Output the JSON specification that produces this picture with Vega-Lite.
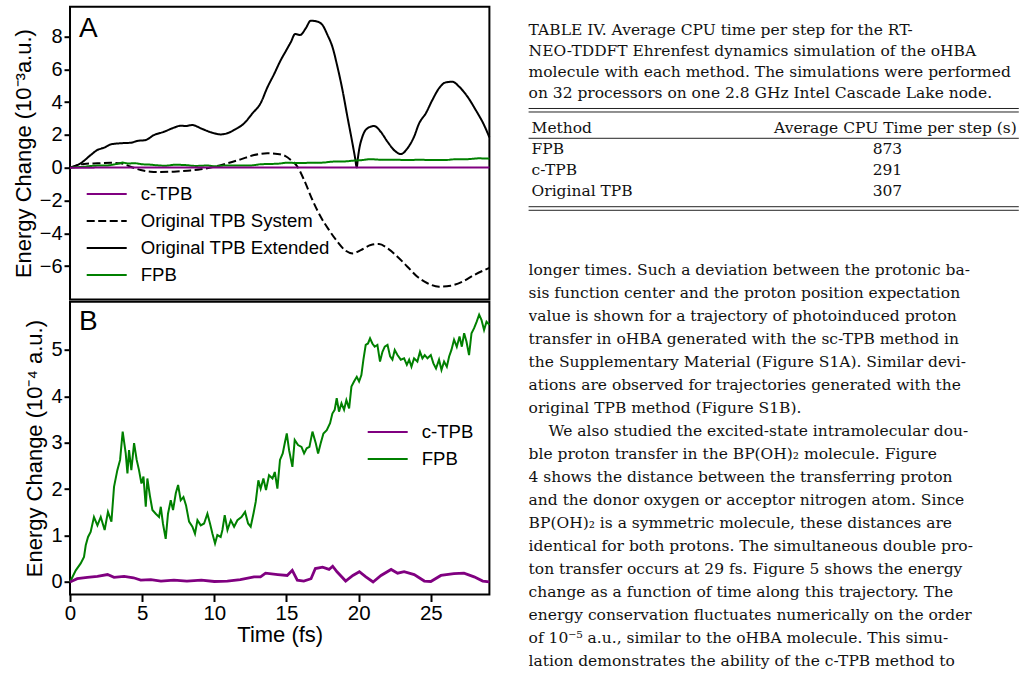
{
  "$schema": "https://vega.github.io/schema/vega-lite/v6.json",
  "background": "white",
  "padding": {"left": 11, "top": 5.7, "right": 5, "bottom": 0},
  "config": {
    "font": "Liberation Sans",
    "view": {"stroke": "black", "strokeWidth": 2},
    "axis": {
      "domain": false, "grid": false, "labelFlush": false,
      "tickColor": "black", "tickWidth": 2, "tickSize": 6,
      "labelColor": "black", "labelFont": "Liberation Sans", "labelFontSize": 20, "labelPadding": 2,
      "titleColor": "black", "titleFont": "Liberation Sans", "titleFontSize": 22, "titleFontWeight": "normal", "titlePadding": 4
    },
    "legend": {
      "labelFont": "Liberation Sans", "labelFontSize": 18.6, "labelColor": "black", "labelLimit": 0,
      "symbolType": "M-2,0H2", "symbolSize": 400, "symbolStrokeWidth": 2,
      "labelOffset": 23, "rowPadding": 6, "padding": 0, "title": null
    }
  },
  "datasets": {
    "panelA": [
      {"s": "Original TPB Extended", "t": 0, "v": 0},
      {"s": "Original TPB Extended", "t": 0.74, "v": 0.27},
      {"s": "Original TPB Extended", "t": 1.43, "v": 0.77},
      {"s": "Original TPB Extended", "t": 1.9, "v": 1.08},
      {"s": "Original TPB Extended", "t": 2.36, "v": 1.22},
      {"s": "Original TPB Extended", "t": 2.82, "v": 1.42},
      {"s": "Original TPB Extended", "t": 3.51, "v": 1.49},
      {"s": "Original TPB Extended", "t": 4.2, "v": 1.52},
      {"s": "Original TPB Extended", "t": 4.67, "v": 1.63},
      {"s": "Original TPB Extended", "t": 5.25, "v": 1.69},
      {"s": "Original TPB Extended", "t": 5.82, "v": 1.99},
      {"s": "Original TPB Extended", "t": 6.51, "v": 2.19},
      {"s": "Original TPB Extended", "t": 7.2, "v": 2.44},
      {"s": "Original TPB Extended", "t": 7.67, "v": 2.56},
      {"s": "Original TPB Extended", "t": 8.0, "v": 2.54},
      {"s": "Original TPB Extended", "t": 8.48, "v": 2.6},
      {"s": "Original TPB Extended", "t": 9.06, "v": 2.4},
      {"s": "Original TPB Extended", "t": 9.75, "v": 2.16},
      {"s": "Original TPB Extended", "t": 10.44, "v": 2.03},
      {"s": "Original TPB Extended", "t": 10.9, "v": 2.1},
      {"s": "Original TPB Extended", "t": 11.37, "v": 2.3},
      {"s": "Original TPB Extended", "t": 12.06, "v": 2.7},
      {"s": "Original TPB Extended", "t": 12.64, "v": 3.31},
      {"s": "Original TPB Extended", "t": 13.2, "v": 3.92},
      {"s": "Original TPB Extended", "t": 13.68, "v": 4.9},
      {"s": "Original TPB Extended", "t": 14.14, "v": 5.7},
      {"s": "Original TPB Extended", "t": 14.6, "v": 6.55},
      {"s": "Original TPB Extended", "t": 14.95, "v": 7.1},
      {"s": "Original TPB Extended", "t": 15.3, "v": 7.65},
      {"s": "Original TPB Extended", "t": 15.6, "v": 8.15},
      {"s": "Original TPB Extended", "t": 15.95, "v": 8.09},
      {"s": "Original TPB Extended", "t": 16.34, "v": 8.5},
      {"s": "Original TPB Extended", "t": 16.68, "v": 8.96},
      {"s": "Original TPB Extended", "t": 17.14, "v": 8.9},
      {"s": "Original TPB Extended", "t": 17.49, "v": 8.7},
      {"s": "Original TPB Extended", "t": 17.84, "v": 8.09},
      {"s": "Original TPB Extended", "t": 18.18, "v": 7.37},
      {"s": "Original TPB Extended", "t": 18.53, "v": 6.15},
      {"s": "Original TPB Extended", "t": 18.88, "v": 4.73},
      {"s": "Original TPB Extended", "t": 19.22, "v": 3.11},
      {"s": "Original TPB Extended", "t": 19.57, "v": 1.49},
      {"s": "Original TPB Extended", "t": 19.75, "v": 0.62},
      {"s": "Original TPB Extended", "t": 19.87, "v": 0.02},
      {"s": "Original TPB Extended", "t": 19.95, "v": 0.6},
      {"s": "Original TPB Extended", "t": 20.03, "v": 1.08},
      {"s": "Original TPB Extended", "t": 20.26, "v": 1.89},
      {"s": "Original TPB Extended", "t": 20.61, "v": 2.4},
      {"s": "Original TPB Extended", "t": 21.07, "v": 2.54},
      {"s": "Original TPB Extended", "t": 21.53, "v": 2.19},
      {"s": "Original TPB Extended", "t": 22.0, "v": 1.58},
      {"s": "Original TPB Extended", "t": 22.57, "v": 0.98},
      {"s": "Original TPB Extended", "t": 22.92, "v": 0.83},
      {"s": "Original TPB Extended", "t": 23.38, "v": 1.18},
      {"s": "Original TPB Extended", "t": 23.84, "v": 1.89},
      {"s": "Original TPB Extended", "t": 24.19, "v": 2.7},
      {"s": "Original TPB Extended", "t": 24.65, "v": 3.31},
      {"s": "Original TPB Extended", "t": 25.11, "v": 4.13},
      {"s": "Original TPB Extended", "t": 25.57, "v": 4.84},
      {"s": "Original TPB Extended", "t": 26.04, "v": 5.2},
      {"s": "Original TPB Extended", "t": 26.5, "v": 5.24},
      {"s": "Original TPB Extended", "t": 26.96, "v": 4.94},
      {"s": "Original TPB Extended", "t": 27.54, "v": 4.33},
      {"s": "Original TPB Extended", "t": 28.11, "v": 3.52},
      {"s": "Original TPB Extended", "t": 28.69, "v": 2.6},
      {"s": "Original TPB Extended", "t": 29.06, "v": 1.85},

      {"s": "Original TPB System", "t": 0, "v": 0},
      {"s": "Original TPB System", "t": 0.97, "v": 0.23},
      {"s": "Original TPB System", "t": 1.9, "v": 0.27},
      {"s": "Original TPB System", "t": 2.82, "v": 0.3},
      {"s": "Original TPB System", "t": 3.5, "v": 0.27},
      {"s": "Original TPB System", "t": 4.2, "v": 0.06},
      {"s": "Original TPB System", "t": 4.9, "v": -0.14},
      {"s": "Original TPB System", "t": 5.59, "v": -0.24},
      {"s": "Original TPB System", "t": 6.28, "v": -0.26},
      {"s": "Original TPB System", "t": 7.2, "v": -0.24},
      {"s": "Original TPB System", "t": 8.14, "v": -0.18},
      {"s": "Original TPB System", "t": 9.06, "v": -0.1},
      {"s": "Original TPB System", "t": 9.98, "v": 0.06},
      {"s": "Original TPB System", "t": 10.9, "v": 0.27},
      {"s": "Original TPB System", "t": 11.83, "v": 0.51},
      {"s": "Original TPB System", "t": 12.75, "v": 0.77},
      {"s": "Original TPB System", "t": 13.67, "v": 0.88},
      {"s": "Original TPB System", "t": 14.37, "v": 0.84},
      {"s": "Original TPB System", "t": 14.9, "v": 0.72},
      {"s": "Original TPB System", "t": 15.3, "v": 0.47},
      {"s": "Original TPB System", "t": 15.76, "v": 0.06},
      {"s": "Original TPB System", "t": 16.22, "v": -0.75},
      {"s": "Original TPB System", "t": 16.8, "v": -1.97},
      {"s": "Original TPB System", "t": 17.37, "v": -2.99},
      {"s": "Original TPB System", "t": 17.95, "v": -3.8},
      {"s": "Original TPB System", "t": 18.53, "v": -4.51},
      {"s": "Original TPB System", "t": 19.1, "v": -5.06},
      {"s": "Original TPB System", "t": 19.57, "v": -5.22},
      {"s": "Original TPB System", "t": 20.15, "v": -5.02},
      {"s": "Original TPB System", "t": 20.84, "v": -4.71},
      {"s": "Original TPB System", "t": 21.41, "v": -4.65},
      {"s": "Original TPB System", "t": 22.0, "v": -4.91},
      {"s": "Original TPB System", "t": 22.69, "v": -5.42},
      {"s": "Original TPB System", "t": 23.38, "v": -6.03},
      {"s": "Original TPB System", "t": 24.07, "v": -6.64},
      {"s": "Original TPB System", "t": 24.77, "v": -7.04},
      {"s": "Original TPB System", "t": 25.57, "v": -7.25},
      {"s": "Original TPB System", "t": 26.38, "v": -7.19},
      {"s": "Original TPB System", "t": 27.19, "v": -6.95},
      {"s": "Original TPB System", "t": 28.0, "v": -6.54},
      {"s": "Original TPB System", "t": 29.06, "v": -6.1},

      {"s": "FPB", "t": 0, "v": 0},
      {"s": "FPB", "t": 0.5, "v": 0.03},
      {"s": "FPB", "t": 1, "v": 0.06},
      {"s": "FPB", "t": 1.5, "v": 0.11},
      {"s": "FPB", "t": 2, "v": 0.13},
      {"s": "FPB", "t": 2.5, "v": 0.13},
      {"s": "FPB", "t": 3, "v": 0.19},
      {"s": "FPB", "t": 3.4, "v": 0.26},
      {"s": "FPB", "t": 3.65, "v": 0.31},
      {"s": "FPB", "t": 4, "v": 0.26},
      {"s": "FPB", "t": 4.5, "v": 0.27},
      {"s": "FPB", "t": 5, "v": 0.21},
      {"s": "FPB", "t": 5.5, "v": 0.19},
      {"s": "FPB", "t": 6, "v": 0.15},
      {"s": "FPB", "t": 6.6, "v": 0.12},
      {"s": "FPB", "t": 7.3, "v": 0.18},
      {"s": "FPB", "t": 8, "v": 0.16},
      {"s": "FPB", "t": 8.7, "v": 0.11},
      {"s": "FPB", "t": 9.5, "v": 0.13},
      {"s": "FPB", "t": 10.05, "v": 0.09},
      {"s": "FPB", "t": 10.7, "v": 0.13},
      {"s": "FPB", "t": 11.5, "v": 0.13},
      {"s": "FPB", "t": 12.3, "v": 0.13},
      {"s": "FPB", "t": 12.8, "v": 0.16},
      {"s": "FPB", "t": 13.2, "v": 0.21},
      {"s": "FPB", "t": 14, "v": 0.23},
      {"s": "FPB", "t": 14.5, "v": 0.25},
      {"s": "FPB", "t": 15, "v": 0.3},
      {"s": "FPB", "t": 15.8, "v": 0.29},
      {"s": "FPB", "t": 16.8, "v": 0.3},
      {"s": "FPB", "t": 17.5, "v": 0.31},
      {"s": "FPB", "t": 18.2, "v": 0.37},
      {"s": "FPB", "t": 19, "v": 0.38},
      {"s": "FPB", "t": 19.6, "v": 0.43},
      {"s": "FPB", "t": 20.2, "v": 0.46},
      {"s": "FPB", "t": 20.8, "v": 0.52},
      {"s": "FPB", "t": 21.5, "v": 0.49},
      {"s": "FPB", "t": 22.3, "v": 0.49},
      {"s": "FPB", "t": 23.3, "v": 0.47},
      {"s": "FPB", "t": 24.2, "v": 0.48},
      {"s": "FPB", "t": 25.2, "v": 0.47},
      {"s": "FPB", "t": 26, "v": 0.47},
      {"s": "FPB", "t": 26.8, "v": 0.52},
      {"s": "FPB", "t": 27.5, "v": 0.52},
      {"s": "FPB", "t": 28.35, "v": 0.57},
      {"s": "FPB", "t": 29.06, "v": 0.55},

      {"s": "c-TPB", "t": 0, "v": 0},
      {"s": "c-TPB", "t": 5, "v": 0.01},
      {"s": "c-TPB", "t": 10, "v": 0.005},
      {"s": "c-TPB", "t": 15, "v": 0.015},
      {"s": "c-TPB", "t": 20, "v": 0.01},
      {"s": "c-TPB", "t": 25, "v": 0.01},
      {"s": "c-TPB", "t": 29.06, "v": 0.005}
    ],
    "panelB": [
      {"s": "FPB", "t": 0, "v": 0}, {"s": "FPB", "t": 0.4, "v": 0.25}, {"s": "FPB", "t": 0.74, "v": 0.4},
      {"s": "FPB", "t": 0.97, "v": 0.54}, {"s": "FPB", "t": 1.09, "v": 0.79}, {"s": "FPB", "t": 1.25, "v": 0.97},
      {"s": "FPB", "t": 1.43, "v": 1.08}, {"s": "FPB", "t": 1.66, "v": 1.4}, {"s": "FPB", "t": 1.9, "v": 1.22},
      {"s": "FPB", "t": 2.13, "v": 1.4}, {"s": "FPB", "t": 2.4, "v": 1.12}, {"s": "FPB", "t": 2.63, "v": 1.51},
      {"s": "FPB", "t": 2.87, "v": 1.3}, {"s": "FPB", "t": 3.05, "v": 2.05}, {"s": "FPB", "t": 3.28, "v": 2.41},
      {"s": "FPB", "t": 3.47, "v": 2.63}, {"s": "FPB", "t": 3.65, "v": 3.24}, {"s": "FPB", "t": 3.86, "v": 2.77},
      {"s": "FPB", "t": 3.98, "v": 2.34}, {"s": "FPB", "t": 4.09, "v": 2.84}, {"s": "FPB", "t": 4.25, "v": 2.41},
      {"s": "FPB", "t": 4.44, "v": 2.99}, {"s": "FPB", "t": 4.62, "v": 2.63}, {"s": "FPB", "t": 4.78, "v": 2.41},
      {"s": "FPB", "t": 4.95, "v": 2.12}, {"s": "FPB", "t": 5.09, "v": 2.27}, {"s": "FPB", "t": 5.25, "v": 1.62},
      {"s": "FPB", "t": 5.36, "v": 2.23}, {"s": "FPB", "t": 5.55, "v": 1.83}, {"s": "FPB", "t": 5.71, "v": 1.55},
      {"s": "FPB", "t": 5.94, "v": 1.47}, {"s": "FPB", "t": 6.17, "v": 1.4}, {"s": "FPB", "t": 6.29, "v": 1.62},
      {"s": "FPB", "t": 6.44, "v": 1.26}, {"s": "FPB", "t": 6.63, "v": 0.93}, {"s": "FPB", "t": 6.79, "v": 1.47},
      {"s": "FPB", "t": 6.98, "v": 1.76}, {"s": "FPB", "t": 7.14, "v": 1.55}, {"s": "FPB", "t": 7.33, "v": 1.91},
      {"s": "FPB", "t": 7.49, "v": 2.09}, {"s": "FPB", "t": 7.67, "v": 1.76}, {"s": "FPB", "t": 7.86, "v": 1.83},
      {"s": "FPB", "t": 8.04, "v": 1.65}, {"s": "FPB", "t": 8.25, "v": 1.3}, {"s": "FPB", "t": 8.48, "v": 1.19},
      {"s": "FPB", "t": 8.66, "v": 1.04}, {"s": "FPB", "t": 8.83, "v": 1.33}, {"s": "FPB", "t": 9.06, "v": 1.22},
      {"s": "FPB", "t": 9.29, "v": 1.26}, {"s": "FPB", "t": 9.52, "v": 1.47}, {"s": "FPB", "t": 9.7, "v": 1.26},
      {"s": "FPB", "t": 9.87, "v": 1.04}, {"s": "FPB", "t": 10.05, "v": 0.83}, {"s": "FPB", "t": 10.21, "v": 1.01},
      {"s": "FPB", "t": 10.44, "v": 0.97}, {"s": "FPB", "t": 10.56, "v": 1.12}, {"s": "FPB", "t": 10.72, "v": 1.44},
      {"s": "FPB", "t": 10.91, "v": 1.12}, {"s": "FPB", "t": 11.14, "v": 1.33}, {"s": "FPB", "t": 11.37, "v": 1.19},
      {"s": "FPB", "t": 11.6, "v": 1.33}, {"s": "FPB", "t": 11.88, "v": 1.4}, {"s": "FPB", "t": 12.13, "v": 1.51},
      {"s": "FPB", "t": 12.34, "v": 1.26}, {"s": "FPB", "t": 12.52, "v": 1.19}, {"s": "FPB", "t": 12.71, "v": 1.47},
      {"s": "FPB", "t": 12.87, "v": 1.73}, {"s": "FPB", "t": 13.05, "v": 2.19}, {"s": "FPB", "t": 13.21, "v": 2.01},
      {"s": "FPB", "t": 13.4, "v": 2.23}, {"s": "FPB", "t": 13.58, "v": 1.98}, {"s": "FPB", "t": 13.79, "v": 2.3},
      {"s": "FPB", "t": 14.03, "v": 2.23}, {"s": "FPB", "t": 14.19, "v": 2.37}, {"s": "FPB", "t": 14.37, "v": 2.01},
      {"s": "FPB", "t": 14.55, "v": 2.63}, {"s": "FPB", "t": 14.74, "v": 2.77}, {"s": "FPB", "t": 14.88, "v": 2.99},
      {"s": "FPB", "t": 15.02, "v": 3.2}, {"s": "FPB", "t": 15.18, "v": 2.84}, {"s": "FPB", "t": 15.41, "v": 2.48},
      {"s": "FPB", "t": 15.57, "v": 3.06}, {"s": "FPB", "t": 15.8, "v": 2.95}, {"s": "FPB", "t": 16.04, "v": 2.91},
      {"s": "FPB", "t": 16.22, "v": 2.77}, {"s": "FPB", "t": 16.4, "v": 2.88}, {"s": "FPB", "t": 16.59, "v": 2.91},
      {"s": "FPB", "t": 16.8, "v": 3.24}, {"s": "FPB", "t": 17.03, "v": 2.99}, {"s": "FPB", "t": 17.19, "v": 2.77},
      {"s": "FPB", "t": 17.37, "v": 2.99}, {"s": "FPB", "t": 17.56, "v": 3.2}, {"s": "FPB", "t": 17.79, "v": 3.27},
      {"s": "FPB", "t": 18.02, "v": 3.42}, {"s": "FPB", "t": 18.18, "v": 3.63}, {"s": "FPB", "t": 18.34, "v": 3.71},
      {"s": "FPB", "t": 18.48, "v": 3.96}, {"s": "FPB", "t": 18.64, "v": 3.67}, {"s": "FPB", "t": 18.81, "v": 3.85},
      {"s": "FPB", "t": 18.99, "v": 3.71}, {"s": "FPB", "t": 19.15, "v": 3.92}, {"s": "FPB", "t": 19.34, "v": 3.74},
      {"s": "FPB", "t": 19.5, "v": 4.21}, {"s": "FPB", "t": 19.68, "v": 4.32}, {"s": "FPB", "t": 19.87, "v": 4.42},
      {"s": "FPB", "t": 20.03, "v": 4.32}, {"s": "FPB", "t": 20.19, "v": 4.46}, {"s": "FPB", "t": 20.33, "v": 4.79},
      {"s": "FPB", "t": 20.49, "v": 5.11}, {"s": "FPB", "t": 20.65, "v": 5.14}, {"s": "FPB", "t": 20.79, "v": 5.25},
      {"s": "FPB", "t": 20.95, "v": 5.14}, {"s": "FPB", "t": 21.11, "v": 5.07}, {"s": "FPB", "t": 21.3, "v": 5.11},
      {"s": "FPB", "t": 21.48, "v": 4.75}, {"s": "FPB", "t": 21.65, "v": 4.96}, {"s": "FPB", "t": 21.81, "v": 5.07},
      {"s": "FPB", "t": 22.0, "v": 5.11}, {"s": "FPB", "t": 22.18, "v": 4.86}, {"s": "FPB", "t": 22.34, "v": 4.79},
      {"s": "FPB", "t": 22.5, "v": 5.0}, {"s": "FPB", "t": 22.69, "v": 4.89}, {"s": "FPB", "t": 22.92, "v": 4.79},
      {"s": "FPB", "t": 23.15, "v": 4.82}, {"s": "FPB", "t": 23.34, "v": 4.68}, {"s": "FPB", "t": 23.5, "v": 4.79},
      {"s": "FPB", "t": 23.66, "v": 4.64}, {"s": "FPB", "t": 23.84, "v": 4.82}, {"s": "FPB", "t": 24.07, "v": 4.75},
      {"s": "FPB", "t": 24.25, "v": 4.96}, {"s": "FPB", "t": 24.42, "v": 4.82}, {"s": "FPB", "t": 24.58, "v": 4.89},
      {"s": "FPB", "t": 24.77, "v": 4.82}, {"s": "FPB", "t": 25.0, "v": 4.89}, {"s": "FPB", "t": 25.18, "v": 4.71},
      {"s": "FPB", "t": 25.36, "v": 4.6}, {"s": "FPB", "t": 25.57, "v": 4.79}, {"s": "FPB", "t": 25.74, "v": 4.57},
      {"s": "FPB", "t": 25.92, "v": 4.75}, {"s": "FPB", "t": 26.11, "v": 4.64}, {"s": "FPB", "t": 26.27, "v": 4.86},
      {"s": "FPB", "t": 26.43, "v": 5.0}, {"s": "FPB", "t": 26.61, "v": 5.22}, {"s": "FPB", "t": 26.8, "v": 5.07},
      {"s": "FPB", "t": 26.99, "v": 5.29}, {"s": "FPB", "t": 27.15, "v": 5.07}, {"s": "FPB", "t": 27.31, "v": 5.36},
      {"s": "FPB", "t": 27.47, "v": 5.18}, {"s": "FPB", "t": 27.65, "v": 4.89}, {"s": "FPB", "t": 27.82, "v": 5.36},
      {"s": "FPB", "t": 28.0, "v": 5.47}, {"s": "FPB", "t": 28.18, "v": 5.61}, {"s": "FPB", "t": 28.35, "v": 5.76},
      {"s": "FPB", "t": 28.51, "v": 5.65}, {"s": "FPB", "t": 28.69, "v": 5.43}, {"s": "FPB", "t": 28.86, "v": 5.61},
      {"s": "FPB", "t": 29.06, "v": 5.54},

      {"s": "c-TPB", "t": 0, "v": 0}, {"s": "c-TPB", "t": 0.5, "v": 0.07}, {"s": "c-TPB", "t": 1.2, "v": 0.1},
      {"s": "c-TPB", "t": 1.9, "v": 0.12}, {"s": "c-TPB", "t": 2.6, "v": 0.16}, {"s": "c-TPB", "t": 3.05, "v": 0.1},
      {"s": "c-TPB", "t": 3.75, "v": 0.12}, {"s": "c-TPB", "t": 4.4, "v": 0.09}, {"s": "c-TPB", "t": 4.9, "v": 0.04},
      {"s": "c-TPB", "t": 5.6, "v": 0.05}, {"s": "c-TPB", "t": 6.3, "v": 0.02}, {"s": "c-TPB", "t": 7.2, "v": 0.04},
      {"s": "c-TPB", "t": 8.1, "v": 0.02}, {"s": "c-TPB", "t": 9.1, "v": 0.04}, {"s": "c-TPB", "t": 10.0, "v": 0.01},
      {"s": "c-TPB", "t": 10.9, "v": 0.02}, {"s": "c-TPB", "t": 11.8, "v": 0.05}, {"s": "c-TPB", "t": 12.75, "v": 0.11},
      {"s": "c-TPB", "t": 13.2, "v": 0.11}, {"s": "c-TPB", "t": 13.55, "v": 0.19}, {"s": "c-TPB", "t": 14.4, "v": 0.16},
      {"s": "c-TPB", "t": 15.05, "v": 0.14}, {"s": "c-TPB", "t": 15.4, "v": 0.25}, {"s": "c-TPB", "t": 15.75, "v": 0.04},
      {"s": "c-TPB", "t": 16.2, "v": 0.02}, {"s": "c-TPB", "t": 16.7, "v": 0.07}, {"s": "c-TPB", "t": 17.0, "v": 0.29},
      {"s": "c-TPB", "t": 17.5, "v": 0.32}, {"s": "c-TPB", "t": 17.95, "v": 0.27}, {"s": "c-TPB", "t": 18.2, "v": 0.34},
      {"s": "c-TPB", "t": 18.5, "v": 0.22}, {"s": "c-TPB", "t": 19.1, "v": 0.02}, {"s": "c-TPB", "t": 19.6, "v": 0.14},
      {"s": "c-TPB", "t": 20.05, "v": 0.22}, {"s": "c-TPB", "t": 20.5, "v": 0.11}, {"s": "c-TPB", "t": 21.0, "v": 0.0},
      {"s": "c-TPB", "t": 21.55, "v": 0.14}, {"s": "c-TPB", "t": 22.25, "v": 0.27}, {"s": "c-TPB", "t": 22.7, "v": 0.19},
      {"s": "c-TPB", "t": 23.15, "v": 0.22}, {"s": "c-TPB", "t": 23.85, "v": 0.16}, {"s": "c-TPB", "t": 24.55, "v": 0.02},
      {"s": "c-TPB", "t": 25.0, "v": 0.01}, {"s": "c-TPB", "t": 25.7, "v": 0.14}, {"s": "c-TPB", "t": 26.6, "v": 0.18},
      {"s": "c-TPB", "t": 27.3, "v": 0.19}, {"s": "c-TPB", "t": 28.0, "v": 0.11}, {"s": "c-TPB", "t": 28.6, "v": 0.02},
      {"s": "c-TPB", "t": 29.06, "v": 0.0}
    ],
    "caption": [
      {"line": 0, "text": "TABLE IV. Average CPU time per step for the RT-"},
      {"line": 1, "text": "NEO-TDDFT Ehrenfest dynamics simulation of the oHBA"},
      {"line": 2, "text": "molecule with each method. The simulations were performed"},
      {"line": 3, "text": "on 32 processors on one 2.8 GHz Intel Cascade Lake node."}
    ],
    "cpu": [
      {"row": 1, "method": "FPB", "time": 873},
      {"row": 2, "method": "c-TPB", "time": 291},
      {"row": 3, "method": "Original TPB", "time": 307}
    ],
    "body": [
      {"line": 0, "text": "longer times. Such a deviation between the protonic ba-"},
      {"line": 1, "text": "sis function center and the proton position expectation"},
      {"line": 2, "text": "value is shown for a trajectory of photoinduced proton"},
      {"line": 3, "text": "transfer in oHBA generated with the sc-TPB method in"},
      {"line": 4, "text": "the Supplementary Material (Figure S1A). Similar devi-"},
      {"line": 5, "text": "ations are observed for trajectories generated with the"},
      {"line": 6, "text": "original TPB method (Figure S1B)."},
      {"line": 7, "text": "We also studied the excited-state intramolecular dou-"},
      {"line": 8, "text": "ble proton transfer in the BP(OH)\u2082 molecule.  Figure"},
      {"line": 9, "text": "4 shows the distance between the transferring proton"},
      {"line": 10, "text": "and the donor oxygen or acceptor nitrogen atom. Since"},
      {"line": 11, "text": "BP(OH)\u2082 is a symmetric molecule, these distances are"},
      {"line": 12, "text": "identical for both protons. The simultaneous double pro-"},
      {"line": 13, "text": "ton transfer occurs at 29 fs. Figure 5 shows the energy"},
      {"line": 14, "text": "change as a function of time along this trajectory. The"},
      {"line": 15, "text": "energy conservation fluctuates numerically on the order"},
      {"line": 16, "text": "of 10\u207b\u2075 a.u., similar to the oHBA molecule. This simu-"},
      {"line": 17, "text": "lation demonstrates the ability of the c-TPB method to"},
      {"line": 18, "text": "simulate two or more proton transfers. Note that the"}
    ]
  },
  "spacing": 31.6,
  "hconcat": [
    {
      "spacing": 0,
      "resolve": {"scale": {"color": "independent", "strokeDash": "independent"}},
      "vconcat": [
        {
          "width": 419.4,
          "height": 292.8,
          "layer": [
            {
              "data": {"name": "panelA"},
              "mark": {"type": "line", "strokeWidth": 2, "interpolate": "monotone"},
              "encoding": {
                "x": {"field": "t", "type": "quantitative", "scale": {"domain": [0, 29.06], "nice": false, "zero": false}, "axis": null},
                "y": {"field": "v", "type": "quantitative", "scale": {"domain": [-8.03, 9.81], "nice": false, "zero": false},
                      "axis": {"values": [-6, -4, -2, 0, 2, 4, 6, 8], "title": "Energy Change (10\u207b\u00b3a.u.)"}},
                "color": {"field": "s", "type": "nominal",
                          "scale": {"domain": ["c-TPB", "Original TPB System", "Original TPB Extended", "FPB"], "range": ["#800080", "black", "black", "#008000"]},
                          "legend": {"orient": "none", "legendX": 25.7, "legendY": 176.3}},
                "strokeDash": {"field": "s", "type": "nominal",
                               "scale": {"domain": ["c-TPB", "Original TPB System", "Original TPB Extended", "FPB"], "range": [[1, 0], [8, 3.5], [1, 0], [1, 0]]}}
              }
            },
            {
              "data": {"values": [{"panel": "A"}]},
              "mark": {"type": "text", "fontSize": 28, "align": "left", "baseline": "alphabetic", "color": "black"},
              "encoding": {
                "x": {"datum": 0.62, "type": "quantitative"},
                "y": {"datum": 7.98, "type": "quantitative"},
                "text": {"field": "panel"}
              }
            }
          ]
        },
        {
          "width": 419.4,
          "height": 292.8,
          "layer": [
            {
              "data": {"name": "panelB"},
              "mark": {"type": "line"},
              "encoding": {
                "x": {"field": "t", "type": "quantitative", "scale": {"domain": [0, 29.06], "nice": false, "zero": false},
                      "axis": {"values": [0, 5, 10, 15, 20, 25], "title": "Time (fs)", "tickSize": 7, "labelFontSize": 20.5, "titlePadding": 1}},
                "y": {"field": "v", "type": "quantitative", "scale": {"domain": [-0.27, 6.04], "nice": false, "zero": false},
                      "axis": {"values": [0, 1, 2, 3, 4, 5], "title": "Energy Change (10\u207b\u2074 a.u.)"}},
                "color": {"field": "s", "type": "nominal",
                          "scale": {"domain": ["c-TPB", "FPB"], "range": ["#800080", "#008000"]},
                          "legend": {"orient": "none", "legendX": 306.7, "legendY": 119.2}},
                "strokeWidth": {"field": "s", "type": "nominal", "scale": {"domain": ["c-TPB", "FPB"], "range": [2.8, 2]}, "legend": null}
              }
            },
            {
              "data": {"values": [{"panel": "B"}]},
              "mark": {"type": "text", "fontSize": 28, "align": "left", "baseline": "alphabetic", "color": "black"},
              "encoding": {
                "x": {"datum": 0.62, "type": "quantitative"},
                "y": {"datum": 5.43, "type": "quantitative"},
                "text": {"field": "panel"}
              }
            }
          ]
        }
      ]
    },
    {
      "width": 490.2,
      "height": 670,
      "view": {"stroke": null},
      "resolve": {"scale": {"y": "independent"}},
      "layer": [
        {
          "data": {"name": "caption"},
          "mark": {"type": "text", "align": "left", "baseline": "alphabetic", "font": "DejaVu Serif", "fontSize": 15.5, "color": "#111"},
          "encoding": {
            "x": {"datum": 0, "type": "quantitative", "scale": {"domain": [0, 1], "nice": false, "zero": false}, "axis": null},
            "y": {"field": "line", "type": "quantitative", "scale": {"domain": [-1.354, 30.703], "reverse": true, "nice": false, "zero": false}, "axis": null},
            "text": {"field": "text"}
          }
        },
        {
          "layer": [
            {
              "data": {"values": [{"row": 0, "left": "Method", "right": "Average CPU Time per step (s)"}]},
              "layer": [
                {
                  "mark": {"type": "text", "align": "left", "baseline": "alphabetic", "font": "DejaVu Serif", "fontSize": 15.5, "color": "#111"},
                  "encoding": {
                    "x": {"datum": 0.006, "type": "quantitative"},
                    "y": {"field": "row", "type": "quantitative", "scale": {"domain": [-6.014, 25.89], "reverse": true, "nice": false, "zero": false}, "axis": null},
                    "text": {"field": "left"}
                  }
                },
                {
                  "mark": {"type": "text", "align": "right", "baseline": "alphabetic", "font": "DejaVu Serif", "fontSize": 15.5, "color": "#111"},
                  "encoding": {
                    "x": {"datum": 0.996, "type": "quantitative"},
                    "y": {"field": "row", "type": "quantitative"},
                    "text": {"field": "right"}
                  }
                }
              ]
            },
            {
              "data": {"name": "cpu"},
              "layer": [
                {
                  "mark": {"type": "text", "align": "left", "baseline": "alphabetic", "font": "DejaVu Serif", "fontSize": 15.5, "color": "#111"},
                  "encoding": {
                    "x": {"datum": 0.006, "type": "quantitative"},
                    "y": {"field": "row", "type": "quantitative"},
                    "text": {"field": "method"}
                  }
                },
                {
                  "mark": {"type": "text", "align": "center", "baseline": "alphabetic", "font": "DejaVu Serif", "fontSize": 15.5, "color": "#111"},
                  "encoding": {
                    "x": {"datum": 0.732, "type": "quantitative"},
                    "y": {"field": "row", "type": "quantitative"},
                    "text": {"field": "time"}
                  }
                }
              ]
            },
            {
              "data": {"values": [{}]},
              "layer": [
                {"mark": {"type": "rule", "color": "#222", "strokeWidth": 1}, "encoding": {"x": {"datum": 0, "type": "quantitative"}, "x2": {"datum": 1}, "y": {"datum": -1.167, "type": "quantitative"}}},
                {"mark": {"type": "rule", "color": "#222", "strokeWidth": 1}, "encoding": {"x": {"datum": 0, "type": "quantitative"}, "x2": {"datum": 1}, "y": {"datum": -1.0, "type": "quantitative"}}},
                {"mark": {"type": "rule", "color": "#222", "strokeWidth": 1}, "encoding": {"x": {"datum": 0, "type": "quantitative"}, "x2": {"datum": 1}, "y": {"datum": 0.252, "type": "quantitative"}}},
                {"mark": {"type": "rule", "color": "#222", "strokeWidth": 1}, "encoding": {"x": {"datum": 0, "type": "quantitative"}, "x2": {"datum": 1}, "y": {"datum": 3.51, "type": "quantitative"}}},
                {"mark": {"type": "rule", "color": "#222", "strokeWidth": 1}, "encoding": {"x": {"datum": 0, "type": "quantitative"}, "x2": {"datum": 1}, "y": {"datum": 3.681, "type": "quantitative"}}}
              ]
            }
          ]
        },
        {
          "data": {"name": "body"},
          "layer": [
            {
              "transform": [{"filter": "datum.line != 7"}],
              "mark": {"type": "text", "align": "left", "baseline": "alphabetic", "font": "DejaVu Serif", "fontSize": 15.5, "color": "#111", "clip": true},
              "encoding": {
                "x": {"datum": 0, "type": "quantitative"},
                "y": {"field": "line", "type": "quantitative", "scale": {"domain": [-11.665, 17.465], "reverse": true, "nice": false, "zero": false}, "axis": null},
                "text": {"field": "text"}
              }
            },
            {
              "transform": [{"filter": "datum.line == 7"}],
              "mark": {"type": "text", "align": "left", "baseline": "alphabetic", "font": "DejaVu Serif", "fontSize": 15.5, "color": "#111", "dx": 20},
              "encoding": {
                "x": {"datum": 0, "type": "quantitative"},
                "y": {"field": "line", "type": "quantitative"},
                "text": {"field": "text"}
              }
            }
          ]
        }
      ]
    }
  ]
}
